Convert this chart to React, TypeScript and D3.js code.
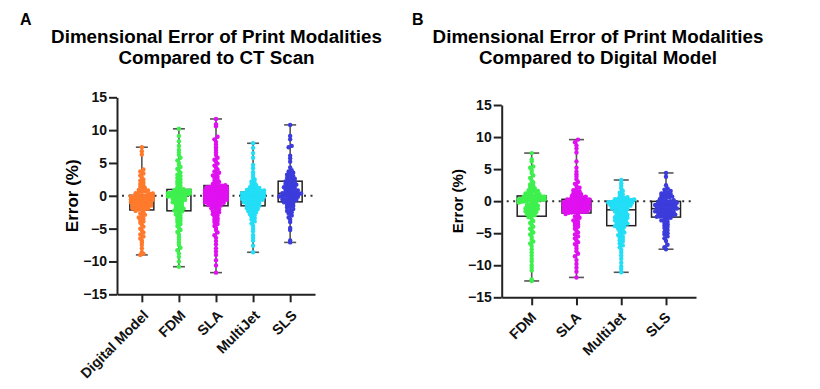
import * as d3 from 'd3';
import React, { useEffect, useRef } from 'react';

// Panel A: compared to CT scan
const catsA = ['Digital Model', 'FDM', 'SLA', 'MultiJet', 'SLS'];
const colorsA = ['#ff7a2c', '#3ef04e', '#e010f0', '#22def6', '#3c3cdc'];

const dmA = [
  7.4, 6.8, 6.3, 4.0, 3.7, 3.4, 3.1, 2.8, 2.5, 2.3, 2.0, 1.8, 1.6, 1.4, 1.2, 1.0, 0.9, 0.8, 0.7, 0.6, 0.5, 0.4, 0.35, 0.3, 0.25,
  0.0, 0.0, -0.05, -0.05, -0.1, -0.1, -0.1, -0.15, -0.15, -0.2, -0.2, -0.2, -0.25, -0.25, -0.3, -0.3, -0.35, -0.35, -0.4, -0.4, -0.45, -0.5, -0.5, -0.55, -0.6,
  -0.65, -0.7, -0.75, -0.8, -0.85, -0.9, -1.0, -1.05, -1.1, -1.2, -1.25, -1.3, -1.4, -1.45, -1.5, -1.6, -1.65, -1.7, -1.8, -1.85, -1.9, -1.95, -2.0, -2.05, -2.1,
  -2.3, -2.5, -2.7, -2.9, -3.1, -3.3, -3.5, -3.7, -3.9, -4.1, -4.4, -4.7, -5.0, -5.3, -5.6, -5.9, -6.2, -6.5, -6.8, -7.1, -7.5, -8.0, -8.6, -8.8, -9.0,
];
const fdmA = [
  10.2, 9.1, 8.3, 7.6, 7.0, 6.6, 6.2, 5.8, 5.4, 5.0, 4.7, 4.4, 4.1, 3.8, 3.5, 3.2, 3.0, 2.7, 2.5, 2.2, 2.0, 1.8, 1.5, 1.3, 1.0,
  0.95, 0.9, 0.85, 0.8, 0.75, 0.7, 0.7, 0.65, 0.6, 0.55, 0.5, 0.5, 0.45, 0.4, 0.4, 0.35, 0.3, 0.3, 0.25, 0.2, 0.2, 0.15, 0.15, 0.1, 0.1,
  0.05, 0.0, 0.0, -0.05, -0.1, -0.15, -0.2, -0.3, -0.4, -0.5, -0.6, -0.7, -0.8, -0.9, -1.0, -1.1, -1.25, -1.4, -1.55, -1.7, -1.85, -1.95, -2.05, -2.15, -2.25,
  -2.4, -2.6, -2.8, -3.0, -3.2, -3.4, -3.6, -3.8, -4.0, -4.3, -4.6, -4.9, -5.2, -5.5, -5.9, -6.3, -6.7, -7.1, -7.5, -7.9, -8.3, -8.8, -9.3, -10.0, -10.8,
];
const slaA = [
  11.7, 10.9, 10.6, 9.0, 8.6, 8.2, 7.8, 7.4, 7.0, 6.6, 6.2, 5.8, 5.5, 5.2, 4.9, 4.6, 4.3, 4.0, 3.7, 3.5, 3.3, 3.1, 2.9, 2.7, 2.5, 2.3, 2.1, 1.95, 1.8, 1.6,
  1.55, 1.5, 1.45, 1.4, 1.35, 1.3, 1.25, 1.2, 1.15, 1.1, 1.0, 0.95, 0.9, 0.85, 0.8, 0.75, 0.7, 0.65, 0.6, 0.55, 0.5, 0.45, 0.4, 0.4, 0.35, 0.3, 0.25, 0.2, 0.2, 0.15,
  0.1, 0.05, 0.0, 0.0, -0.05, -0.1, -0.15, -0.2, -0.25, -0.3, -0.35, -0.4, -0.45, -0.5, -0.55, -0.6, -0.65, -0.7, -0.75, -0.8, -0.85, -0.9, -1.0, -1.05, -1.1, -1.2, -1.25, -1.3, -1.4, -1.5,
  -1.6, -1.75, -1.9, -2.05, -2.2, -2.35, -2.5, -2.65, -2.8, -3.0, -3.2, -3.4, -3.6, -3.8, -4.0, -4.3, -4.6, -4.9, -5.2, -5.6, -6.0, -6.4, -6.9, -7.4, -8.0, -8.5, -9.0, -9.8, -10.6, -11.7,
];
const mjA = [
  8.0, 7.3, 6.5, 5.8, 4.7, 4.2, 3.6, 3.2, 2.8, 2.5, 2.2, 2.0, 1.8, 1.6, 1.4, 1.3, 1.2, 1.1, 1.0, 0.95, 0.9, 0.8, 0.75, 0.7, 0.6,
  0.55, 0.5, 0.5, 0.45, 0.4, 0.4, 0.35, 0.3, 0.3, 0.25, 0.25, 0.2, 0.2, 0.15, 0.15, 0.1, 0.1, 0.1, 0.05, 0.05, 0.05, 0.0, 0.0, 0.0, 0.0,
  -0.05, -0.05, -0.1, -0.1, -0.15, -0.2, -0.25, -0.3, -0.35, -0.4, -0.45, -0.5, -0.6, -0.65, -0.7, -0.8, -0.85, -0.9, -1.0, -1.1, -1.2, -1.25, -1.3, -1.4, -1.5,
  -1.6, -1.7, -1.8, -1.9, -2.0, -2.1, -2.2, -2.35, -2.5, -2.65, -2.8, -3.0, -3.2, -3.4, -3.6, -3.9, -4.2, -4.6, -5.0, -5.4, -6.0, -6.4, -6.8, -7.6, -8.6,
];
const slsA = [
  10.8, 9.1, 8.6, 7.6, 7.4, 6.1, 5.7, 5.2, 4.3, 3.9, 3.7, 3.5, 3.3, 3.2, 3.0, 2.9, 2.7, 2.6, 2.5, 2.3,
  2.2, 2.1, 2.0, 1.9, 1.8, 1.7, 1.6, 1.5, 1.4, 1.3, 1.2, 1.1, 1.0, 0.9, 0.8, 0.7, 0.6, 0.55, 0.5, 0.4,
  0.35, 0.3, 0.25, 0.2, 0.15, 0.1, 0.05, 0.0, -0.05, -0.1, -0.15, -0.2, -0.3, -0.4, -0.5, -0.55, -0.6, -0.7, -0.8, -0.9,
  -1.0, -1.1, -1.2, -1.4, -1.5, -1.6, -1.8, -2.0, -2.2, -2.3, -2.5, -2.7, -3.0, -3.3, -3.6, -4.0, -4.9, -5.2, -6.8, -7.1,
];

// Panel B: compared to digital model
const catsB = ['FDM', 'SLA', 'MultiJet', 'SLS'];
const colorsB = ['#3ef04e', '#e010f0', '#22def6', '#3c3cdc'];

const fdmB = [
  7.5, 6.5, 6.2, 5.4, 5.2, 4.8, 4.4, 4.0, 3.6, 3.2, 2.9, 2.6, 2.4, 2.2, 2.0, 1.85, 1.7, 1.6, 1.5, 1.4, 1.3, 1.2, 1.1, 1.0, 0.85,
  0.8, 0.8, 0.75, 0.7, 0.7, 0.65, 0.6, 0.6, 0.55, 0.5, 0.5, 0.45, 0.4, 0.4, 0.35, 0.3, 0.3, 0.25, 0.25, 0.2, 0.2, 0.15, 0.15, 0.1, 0.1,
  0.05, 0.0, -0.05, -0.1, -0.2, -0.3, -0.4, -0.5, -0.6, -0.7, -0.8, -0.9, -1.0, -1.1, -1.2, -1.3, -1.4, -1.5, -1.6, -1.7, -1.8, -1.95, -2.05, -2.2, -2.3,
  -2.5, -2.8, -3.1, -3.4, -3.7, -4.0, -4.3, -4.6, -4.9, -5.2, -5.6, -6.0, -6.3, -6.6, -7.0, -7.5, -8.0, -8.5, -9.0, -9.4, -10.0, -10.4, -10.8, -12.2, -12.45,
];
const slaB = [
  9.6, 9.2, 8.7, 8.2, 7.6, 6.2, 5.2, 4.6, 4.2, 3.8, 3.4, 3.0, 2.7, 2.4, 2.1, 1.9, 1.7, 1.5, 1.3, 1.2, 1.1, 1.0, 0.9, 0.8, 0.7, 0.6, 0.5, 0.45, 0.4, 0.3,
  0.28, 0.25, 0.22, 0.2, 0.18, 0.15, 0.12, 0.1, 0.08, 0.05, 0.02, 0.0, 0.0, -0.02, -0.05, -0.08, -0.1, -0.12, -0.15, -0.18, -0.2, -0.22, -0.25, -0.28, -0.3, -0.33, -0.36, -0.4, -0.42, -0.45,
  -0.5, -0.55, -0.6, -0.65, -0.7, -0.75, -0.8, -0.85, -0.9, -0.95, -1.0, -1.05, -1.1, -1.15, -1.2, -1.25, -1.3, -1.35, -1.4, -1.45, -1.5, -1.55, -1.6, -1.62, -1.65, -1.68, -1.7, -1.74, -1.77, -1.8,
  -2.0, -2.2, -2.4, -2.6, -2.8, -3.0, -3.2, -3.4, -3.6, -3.8, -4.0, -4.3, -4.6, -4.9, -5.2, -5.5, -5.8, -6.1, -6.4, -6.7, -7.0, -7.4, -7.8, -8.2, -8.6, -9.2, -9.8, -10.4, -11.0, -11.9,
];
const mjB = [
  3.3, 2.8, 2.4, 2.0, 1.6, 1.3, 1.0, 0.8, 0.6, 0.5, 0.4, 0.35, 0.3, 0.25, 0.2, 0.15, 0.15, 0.1, 0.1, 0.05, 0.05, 0.05, 0.0, 0.0, 0.0,
  -0.02, -0.05, -0.08, -0.1, -0.12, -0.15, -0.18, -0.2, -0.25, -0.3, -0.35, -0.4, -0.45, -0.5, -0.55, -0.6, -0.7, -0.75, -0.8, -0.9, -1.0, -1.05, -1.1, -1.2, -1.3,
  -1.4, -1.5, -1.6, -1.7, -1.8, -1.9, -2.0, -2.1, -2.2, -2.3, -2.4, -2.5, -2.6, -2.7, -2.8, -2.9, -3.0, -3.1, -3.2, -3.3, -3.4, -3.5, -3.6, -3.7, -3.8,
  -3.9, -4.0, -4.1, -4.3, -4.5, -4.7, -4.9, -5.1, -5.3, -5.5, -5.7, -5.9, -6.1, -6.3, -6.6, -6.9, -7.2, -7.6, -8.0, -8.5, -9.0, -9.6, -10.2, -10.6, -11.1,
];
const slsB = [
  4.4, 3.8, 2.5, 2.0, 1.8, 1.6, 1.4, 1.3, 1.2, 1.1, 1.0, 0.9, 0.8, 0.7, 0.6, 0.5, 0.4, 0.3, 0.15, 0.0,
  -0.05, -0.1, -0.15, -0.2, -0.25, -0.3, -0.35, -0.4, -0.45, -0.5, -0.55, -0.6, -0.7, -0.75, -0.8, -0.85, -0.9, -1.0, -1.1, -1.15,
  -1.2, -1.3, -1.35, -1.4, -1.5, -1.55, -1.6, -1.7, -1.75, -1.8, -1.9, -1.95, -2.0, -2.1, -2.15, -2.2, -2.3, -2.35, -2.4, -2.45,
  -2.6, -2.75, -2.9, -3.0, -3.2, -3.4, -3.6, -3.8, -4.0, -4.2, -4.5, -4.8, -5.0, -5.2, -5.5, -5.8, -6.2, -6.8, -7.2, -7.5,
];

const yTicks = [-15, -10, -5, 0, 5, 10, 15];

const FONT = '"Liberation Sans", Arial, Helvetica, sans-serif';

interface Panel {
  letter: string;
  letterX: number;
  title: string[];
  titleX: number;
  cats: string[];
  groups: number[][];
  colors: string[];
  left: number;
  right: number;
  top: number;
  bottom: number;
  yLabelX: number;
  yLabelSize: number;
  boxW: number;
  capW: number;
  swarmW: number;
  labelShift: [number, number];
}

const panels: Panel[] = [
  {
    letter: 'A', letterX: 20,
    title: ['Dimensional Error of Print Modalities', 'Compared to CT Scan'], titleX: 216.5,
    cats: catsA, groups: [dmA, fdmA, slaA, mjA, slsA], colors: colorsA,
    left: 117, right: 315, top: 97.3, bottom: 294.3,
    yLabelX: 78, yLabelSize: 17, boxW: 24, capW: 12, swarmW: 22, labelShift: [7, 22],
  },
  {
    letter: 'B', letterX: 412,
    title: ['Dimensional Error of Print Modalities', 'Compared to Digital Model'], titleX: 598,
    cats: catsB, groups: [fdmB, slaB, mjB, slsB], colors: colorsB,
    left: 501.7, right: 696, top: 105, bottom: 297.3,
    yLabelX: 463, yLabelSize: 15, boxW: 29, capW: 15, swarmW: 26, labelShift: [5, 21],
  },
];

// row-based swarm: values falling in the same pixel row are spread sideways
function swarm(vals: number[], y: (v: number) => number, binH: number, step: number, maxW: number) {
  const rows = d3.group(vals, (v) => Math.round(y(v) / binH));
  const out: { v: number; dx: number }[] = [];
  rows.forEach((arr) => {
    const n = arr.length;
    const s = n > 1 ? Math.min(step, maxW / (n - 1)) : 0;
    arr.forEach((v, i) => out.push({ v, dx: (i - (n - 1) / 2) * s }));
  });
  return out;
}

const App: React.FC = () => {
  const ref = useRef<SVGSVGElement>(null);

  useEffect(() => {
    if (!ref.current) return;
    const svg = d3.select(ref.current);
    svg.selectAll('*').remove();

    panels.forEach((p) => {
      const g = svg.append('g').attr('font-family', FONT);
      const y = d3.scaleLinear().domain([-15, 15]).range([p.bottom, p.top]);
      const x = d3.scalePoint<string>().domain(p.cats).range([p.left, p.right]).padding(0.67);

      g.append('text')
        .attr('x', p.letterX)
        .attr('y', 25)
        .attr('font-size', 16)
        .attr('font-weight', 'bold')
        .text(p.letter);

      p.title.forEach((t, i) => {
        g.append('text')
          .attr('x', p.titleX)
          .attr('y', 43 + i * 21)
          .attr('text-anchor', 'middle')
          .attr('font-size', 18.8)
          .attr('font-weight', 'bold')
          .text(t);
      });

      g.append('text')
        .attr('transform', `translate(${p.yLabelX},${(p.top + p.bottom) / 2}) rotate(-90)`)
        .attr('text-anchor', 'middle')
        .attr('font-size', p.yLabelSize)
        .attr('font-weight', 'bold')
        .text('Error (%)');

      // dotted zero line
      g.append('line')
        .attr('x1', p.left + 5)
        .attr('x2', p.right - 2)
        .attr('y1', y(0))
        .attr('y2', y(0))
        .attr('stroke', '#333')
        .attr('stroke-width', 2)
        .attr('stroke-dasharray', '2,4.5');

      p.cats.forEach((c, i) => {
        const vals = p.groups[i].slice().sort(d3.ascending);
        const q1 = d3.quantile(vals, 0.25)!;
        const med = d3.quantile(vals, 0.5)!;
        const q3 = d3.quantile(vals, 0.75)!;
        const lo = vals[0];
        const hi = vals[vals.length - 1];
        const cx = x(c)!;
        const bg = g.append('g');

        bg.append('line')
          .attr('x1', cx).attr('x2', cx)
          .attr('y1', y(lo)).attr('y2', y(hi))
          .attr('stroke', '#555').attr('stroke-width', 1.6);
        [lo, hi].forEach((v) => {
          bg.append('line')
            .attr('x1', cx - p.capW / 2).attr('x2', cx + p.capW / 2)
            .attr('y1', y(v)).attr('y2', y(v))
            .attr('stroke', '#555').attr('stroke-width', 1.6);
        });
        bg.append('rect')
          .attr('x', cx - p.boxW / 2)
          .attr('y', y(q3))
          .attr('width', p.boxW)
          .attr('height', y(q1) - y(q3))
          .attr('fill', 'none')
          .attr('stroke', '#222')
          .attr('stroke-width', 1.5);
        bg.append('line')
          .attr('x1', cx - p.boxW / 2).attr('x2', cx + p.boxW / 2)
          .attr('y1', y(med)).attr('y2', y(med))
          .attr('stroke', '#222').attr('stroke-width', 1.5);

        bg.selectAll('circle')
          .data(swarm(vals, y, 3, 3.1, p.swarmW))
          .join('circle')
          .attr('cx', (d) => cx + d.dx)
          .attr('cy', (d) => y(d.v))
          .attr('r', 2.2)
          .attr('fill', p.colors[i]);
      });

      // y axis
      const yAxis = g.append('g')
        .attr('transform', `translate(${p.left},0)`)
        .call(d3.axisLeft(y).tickValues(yTicks).tickSize(8).tickSizeOuter(0).tickPadding(2));
      yAxis.select('.domain').attr('stroke', '#222').attr('stroke-width', 2);
      yAxis.selectAll('.tick line').attr('stroke', '#222').attr('stroke-width', 2);
      yAxis.selectAll('.tick text')
        .attr('font-family', FONT)
        .attr('font-size', 14)
        .attr('font-weight', 'bold')
        .attr('fill', '#111');

      // x axis
      const xAxis = g.append('g')
        .attr('transform', `translate(0,${p.bottom})`)
        .call(d3.axisBottom(x).tickSize(8).tickSizeOuter(0));
      xAxis.select('.domain').attr('stroke', '#222').attr('stroke-width', 2);
      xAxis.selectAll('.tick line').attr('stroke', '#222').attr('stroke-width', 2);
      xAxis.selectAll('.tick text')
        .attr('font-family', FONT)
        .attr('font-size', 14.3)
        .attr('font-weight', 'bold')
        .attr('fill', '#111')
        .attr('text-anchor', 'end')
        .attr('x', 0)
        .attr('y', 0)
        .attr('dy', null)
        .attr('transform', `translate(${p.labelShift[0]},${p.labelShift[1]}) rotate(-45)`);
    });
  }, []);

  return (
    <div style={{ position: 'absolute', left: 0, top: 0 }}>
      <svg ref={ref} width={820} height={389} viewBox="0 0 820 389" style={{ display: 'block', background: '#fff' }} />
    </div>
  );
};

export default App;
